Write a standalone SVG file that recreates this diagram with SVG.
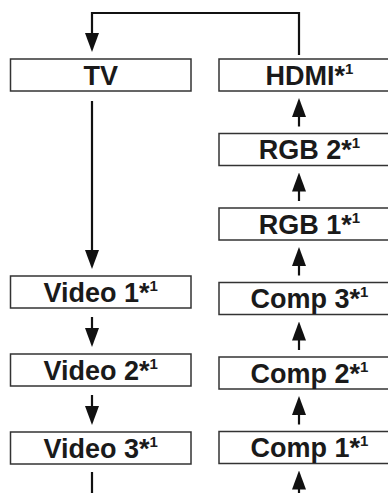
<svg xmlns="http://www.w3.org/2000/svg" width="388" height="493" viewBox="0 0 388 493">
<defs>
<style>
.box{fill:#fff;stroke:#333;stroke-width:1.5}
.lbl{font-family:"Liberation Sans",Arial,sans-serif;font-weight:bold;font-size:27px;fill:#1a1a1a;text-anchor:middle}
.sup{font-size:15px}
.con{fill:none;stroke:#111;stroke-width:2.2}
</style>
<marker id="ah" viewBox="0 0 19 14" refX="8" refY="7" markerWidth="19" markerHeight="14" markerUnits="userSpaceOnUse" orient="auto">
<path d="M0,0 L19,7 L0,14 z" fill="#111"/>
</marker>
</defs>
<rect width="388" height="493" fill="#fff"/>
<g id="connectors">
<path class="con" d="M299,55 V13 H92 V41" marker-end="url(#ah)"/>
<path class="con" d="M92,101 V258" marker-end="url(#ah)"/>
<path class="con" d="M92,317 V336" marker-end="url(#ah)"/>
<path class="con" d="M92,395 V414" marker-end="url(#ah)"/>
<path class="con" d="M92,472 V493"/>
<path class="con" d="M299,493 V481.5" marker-end="url(#ah)"/>
<path class="con" d="M299,424.5 V407" marker-end="url(#ah)"/>
<path class="con" d="M299,350 V332.5" marker-end="url(#ah)"/>
<path class="con" d="M299,275.5 V258" marker-end="url(#ah)"/>
<path class="con" d="M299,201 V183.5" marker-end="url(#ah)"/>
<path class="con" d="M299,126.5 V109" marker-end="url(#ah)"/>
</g>
<g id="tv"><rect class="box" x="10.5" y="59" width="180.5" height="32"/><text class="lbl" x="100.75" y="84.5">TV</text></g>
<g id="video1"><rect class="box" x="10.5" y="276" width="180.5" height="32"/><text class="lbl" x="100.75" y="301.5">Video 1*<tspan class="sup" dy="-11">1</tspan></text></g>
<g id="video2"><rect class="box" x="10.5" y="354" width="180.5" height="32"/><text class="lbl" x="100.75" y="379.5">Video 2*<tspan class="sup" dy="-11">1</tspan></text></g>
<g id="video3"><rect class="box" x="10.5" y="432" width="180.5" height="32"/><text class="lbl" x="100.75" y="457.5">Video 3*<tspan class="sup" dy="-11">1</tspan></text></g>
<g id="hdmi"><rect class="box" x="219" y="59" width="181" height="32"/><text class="lbl" x="309.5" y="84.5">HDMI*<tspan class="sup" dy="-11">1</tspan></text></g>
<g id="rgb2"><rect class="box" x="219" y="133.5" width="181" height="32"/><text class="lbl" x="309.5" y="159">RGB 2*<tspan class="sup" dy="-11">1</tspan></text></g>
<g id="rgb1"><rect class="box" x="219" y="208" width="181" height="32"/><text class="lbl" x="309.5" y="233.5">RGB 1*<tspan class="sup" dy="-11">1</tspan></text></g>
<g id="comp3"><rect class="box" x="219" y="282.5" width="181" height="32"/><text class="lbl" x="309.5" y="308">Comp 3*<tspan class="sup" dy="-11">1</tspan></text></g>
<g id="comp2"><rect class="box" x="219" y="357" width="181" height="32"/><text class="lbl" x="309.5" y="382.5">Comp 2*<tspan class="sup" dy="-11">1</tspan></text></g>
<g id="comp1"><rect class="box" x="219" y="431.5" width="181" height="32"/><text class="lbl" x="309.5" y="457">Comp 1*<tspan class="sup" dy="-11">1</tspan></text></g>
</svg>
